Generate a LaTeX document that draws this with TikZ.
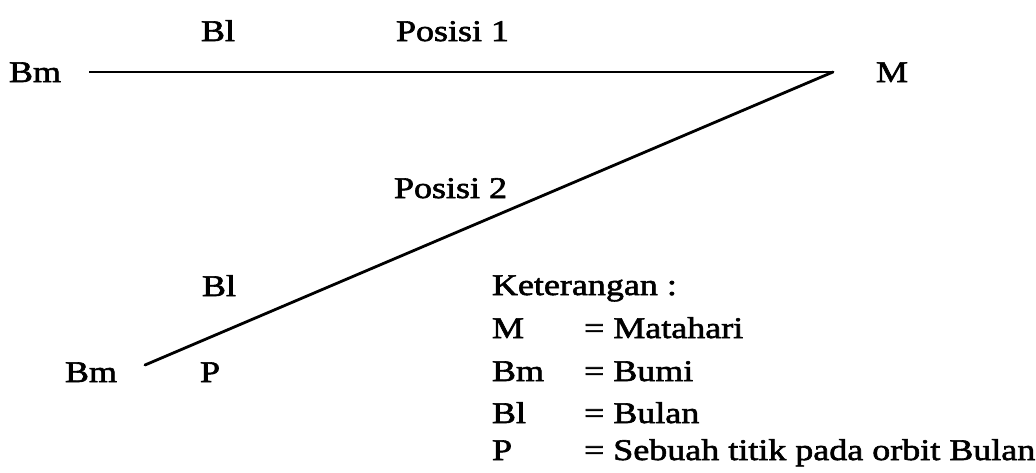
\documentclass[tikz,border=0pt]{standalone}
\usepackage{fontspec}
\setmainfont[FakeBold=2,FakeStretch=1.2]{Liberation Serif}
\begin{document}
\begin{tikzpicture}[x=1pt,y=-1pt,
  lbl/.style={anchor=base west,inner sep=0pt,outer sep=0pt,font=\fontsize{30}{36}\selectfont},
  thinline/.style={line width=1.8pt},
  thickline/.style={line width=2.8pt}]
\useasboundingbox (0,0) rectangle (1036,472);
% labels
\node[lbl] (bmA) at (9,82) {Bm};
\node[lbl] (blA) at (201,41) {Bl};
\node[lbl] (pos1) at (396,41) {Posisi 1};
\node[lbl] (m) at (876,82) {M};
\node[lbl] (pos2) at (394,198) {Posisi 2};
\node[lbl] (blB) at (202,296) {Bl};
\node[lbl] (bmB) at (65,382) {Bm};
\node[lbl] (pB) at (200,382) {P};
% legend
\node[lbl] (ket) at (492,295) {Keterangan :};
\node[lbl] (k1) at (492,338) {M};
\node[lbl] (k2) at (492,381) {Bm};
\node[lbl] (k3) at (492,423) {Bl};
\node[lbl] (k4) at (492,460) {P};
\node[lbl] (v1) at (584,338) {= Matahari};
\node[lbl] (v2) at (584,381) {= Bumi};
\node[lbl] (v3) at (584,423) {= Bulan};
\node[lbl] (v4) at (584,460) {= Sebuah titik pada orbit Bulan};
% lines
\coordinate (start1) at (89,72);
\coordinate (vertex) at (833,72);
\coordinate (start2) at (145,365);
\draw[thinline] (start1) -- (vertex);
\draw[thickline,line cap=round] (vertex) -- (start2);
\end{tikzpicture}
\end{document}
